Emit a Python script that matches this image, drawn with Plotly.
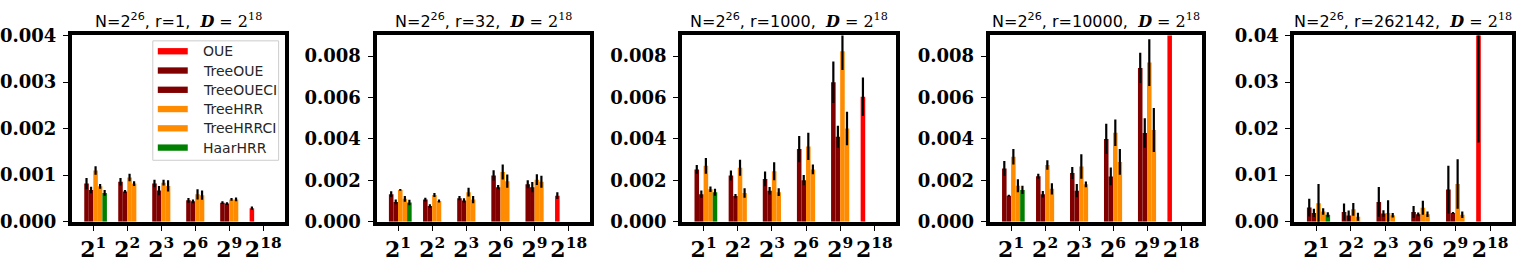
import plotly.graph_objects as go

categories = ["2<sup>1</sup>", "2<sup>2</sup>", "2<sup>3</sup>", "2<sup>6</sup>", "2<sup>9</sup>", "2<sup>18</sup>"]
methods = ["OUE", "TreeOUE", "TreeOUECI", "TreeHRR", "TreeHRRCI", "HaarHRR"]
r_values = ["1", "32", "1000", "10000", "262142"]

# rows follow `methods`, columns follow `categories`
r1_mean = [
    [None, None, None, None, None, 0.00029],
    [0.00082, 0.00086, 0.00082, 0.00046, 0.00041, None],
    [0.00068, 0.00065, 0.00067, 0.00044, 0.00039, None],
    [0.00110, 0.00095, 0.00084, 0.00059, 0.00048, None],
    [0.00076, 0.00082, 0.00077, 0.00057, 0.00048, None],
    [0.00062, None, None, None, None, None],
]
r1_err = [
    [None, None, None, None, None, 0.00004],
    [0.00012, 0.00008, 0.00008, 0.00005, 0.00003, None],
    [0.00007, 0.00003, 0.00010, 0.00004, 0.00003, None],
    [0.00009, 0.00008, 0.00006, 0.00011, 0.00003, None],
    [0.00005, 0.00005, 0.00012, 0.00010, 0.00004, None],
    [0.00006, None, None, None, None, None],
]
r32_mean = [
    [None, None, None, None, None, 0.00126],
    [0.00133, 0.00107, 0.00114, 0.00224, 0.00181, None],
    [0.00096, 0.00076, 0.00103, 0.00167, 0.00167, None],
    [0.00154, 0.00129, 0.00143, 0.00240, 0.00203, None],
    [0.00111, 0.00100, 0.00107, 0.00196, 0.00193, None],
    [0.00093, None, None, None, None, None],
]
r32_err = [
    [None, None, None, None, None, 0.00016],
    [0.00014, 0.00009, 0.00010, 0.00025, 0.00019, None],
    [0.00012, 0.00009, 0.00010, 0.00010, 0.00025, None],
    [0.00004, 0.00010, 0.00021, 0.00036, 0.00026, None],
    [0.00014, 0.00007, 0.00017, 0.00032, 0.00029, None],
    [0.00013, None, None, None, None, None],
]
r1000_mean = [
    [None, None, None, None, None, 0.00604],
    [0.00253, 0.00223, 0.00207, 0.00351, 0.00674, None],
    [0.00133, 0.00124, 0.00150, 0.00201, 0.00411, None],
    [0.00270, 0.00261, 0.00244, 0.00364, 0.00824, None],
    [0.00157, 0.00139, 0.00143, 0.00253, 0.00450, None],
    [0.00143, None, None, None, None, None],
]
r1000_err = [
    [None, None, None, None, None, 0.00093],
    [0.00021, 0.00024, 0.00036, 0.00063, 0.00100, None],
    [0.00018, 0.00010, 0.00018, 0.00025, 0.00053, None],
    [0.00038, 0.00039, 0.00043, 0.00066, 0.00091, None],
    [0.00013, 0.00023, 0.00019, 0.00024, 0.00081, None],
    [0.00017, None, None, None, None, None],
]
r10000_mean = [
    [None, None, None, None, None, 0.02500],
    [0.00257, 0.00220, 0.00236, 0.00400, 0.00743, None],
    [0.00126, 0.00133, 0.00150, 0.00219, 0.00429, None],
    [0.00314, 0.00274, 0.00267, 0.00430, 0.00769, None],
    [0.00174, 0.00159, 0.00181, 0.00289, 0.00443, None],
    [0.00154, None, None, None, None, None],
]
r10000_err = [
    [None, None, None, None, None, 0.00400],
    [0.00036, 0.00012, 0.00029, 0.00073, 0.00073, None],
    [0.00004, 0.00016, 0.00032, 0.00043, 0.00071, None],
    [0.00037, 0.00023, 0.00059, 0.00064, 0.00113, None],
    [0.00031, 0.00027, 0.00014, 0.00062, 0.00106, None],
    [0.00020, None, None, None, None, None],
]
r262142_mean = [
    [None, None, None, None, None, 0.06000],
    [0.00305, 0.00210, 0.00425, 0.00210, 0.00690, None],
    [0.00190, 0.00133, 0.00178, 0.00160, 0.00190, None],
    [0.00400, 0.00267, 0.00190, 0.00300, 0.00810, None],
    [0.00220, 0.00108, 0.00140, 0.00160, 0.00150, None],
    [0.00150, None, None, None, None, None],
]
r262142_err = [
    [None, None, None, None, None, 0.04300],
    [0.00190, 0.00180, 0.00320, 0.00130, 0.00510, None],
    [0.00090, 0.00110, 0.00070, 0.00040, 0.00020, None],
    [0.00410, 0.00137, 0.00270, 0.00150, 0.00530, None],
    [0.00070, 0.00086, 0.00050, 0.00060, 0.00070, None],
    [0.00055, None, None, None, None, None],
]

panel_means = [r1_mean, r32_mean, r1000_mean, r10000_mean, r262142_mean]
panel_errs = [r1_err, r32_err, r1000_err, r10000_err, r262142_err]
y_max = [0.004, 0.009, 0.009, 0.009, 0.04]
y_step = [0.001, 0.002, 0.002, 0.002, 0.01]
y_fmt = [".3f", ".3f", ".3f", ".3f", ".2f"]

colors = ["#ff0000", "#800000", "#800000", "#ff8c00", "#ff8c00", "#008000"]

W, H = 1517, 262
x_px = [(70, 283), (375, 589), (681, 895), (989, 1202), (1294, 1512)]
y_px = (27, 233)
ydom = [1 - y_px[1] / H, 1 - y_px[0] / H]


def px_x(v):
    return v / W


def px_y(v):
    return 1 - v / H


fig = go.Figure()
layout = dict(
    width=W, height=H, margin=dict(l=0, r=0, t=0, b=0),
    paper_bgcolor="white", plot_bgcolor="white",
    barmode="group", bargap=0.2, bargroupgap=0.0,
    showlegend=False,
    annotations=[], shapes=[],
)

for p in range(5):
    sfx = "" if p == 0 else str(p + 1)
    xa, ya = "x" + sfx, "y" + sfx
    for m, name in enumerate(methods):
        fig.add_trace(go.Bar(
            x=categories, y=panel_means[p][m], name=name,
            xaxis=xa, yaxis=ya, marker=dict(color=colors[m], line=dict(width=0)),
            error_y=dict(type="data", array=panel_errs[p][m], color="black", thickness=2.2, width=0),
        ))
    x0, x1 = x_px[p]
    layout["xaxis" + sfx] = dict(
        domain=[px_x(x0), px_x(x1)], anchor=ya, range=[-0.63, 5.63], type="category",
        categoryorder="array", categoryarray=categories,
        showline=True, linewidth=4, linecolor="black", mirror=True,
        ticks="outside", ticklen=5, tickwidth=1, tickcolor="black",
        tickfont=dict(family="DejaVu Serif", size=22, color="black", weight="bold"),
        showgrid=False, zeroline=False, fixedrange=True,
    )
    layout["yaxis" + sfx] = dict(
        domain=ydom, anchor=xa, range=[0, y_max[p]],
        tickmode="linear", tick0=0, dtick=y_step[p], tickformat=y_fmt[p],
        showline=True, linewidth=4, linecolor="black", mirror=True,
        ticks="outside", ticklen=5, tickwidth=1, tickcolor="black",
        tickfont=dict(family="DejaVu Serif", size=18, color="black", weight="bold"),
        ticklabelstandoff=3,
        showgrid=False, zeroline=False, fixedrange=True,
    )
    layout["annotations"].append(dict(
        x=px_x((x0 + x1) / 2), y=px_y(10), xref="paper", yref="paper",
        xanchor="center", yanchor="middle", showarrow=False,
        text=("N=2<sup>26</sup>, r=" + r_values[p] + ",\u00a0 "
              "<span style='font-family:DejaVu Serif'><b><i>D</i></b>\u00a0=\u00a02<sup>18</sup></span>"),
        font=dict(family="DejaVu Sans", size=16, color="black"),
    ))

# legend of the first panel (matplotlib-style: framed box, wide colour patches)
leg_left, leg_top, leg_right, leg_bottom = 151, 33, 277, 165
row0, row_step = 44.5, 21.3
layout["shapes"].append(dict(
    type="rect", xref="paper", yref="paper", layer="above",
    x0=px_x(leg_left), x1=px_x(leg_right), y0=px_y(leg_bottom), y1=px_y(leg_top),
    fillcolor="rgba(255,255,255,0.8)", line=dict(color="#cccccc", width=1),
))
for m, name in enumerate(methods):
    cy = row0 + m * row_step
    layout["shapes"].append(dict(
        type="rect", xref="paper", yref="paper", layer="above",
        x0=px_x(leg_left + 5), x1=px_x(leg_left + 35), y0=px_y(cy + 3.5), y1=px_y(cy - 3.5),
        fillcolor=colors[m], line=dict(width=0),
    ))
    layout["annotations"].append(dict(
        x=px_x(leg_left + 48), y=px_y(cy), xref="paper", yref="paper",
        xanchor="left", yanchor="middle", showarrow=False, text=name,
        font=dict(family="DejaVu Sans", size=14, color="#262626"),
    ))

fig.update_layout(**layout)
fig.write_html("out.html")
